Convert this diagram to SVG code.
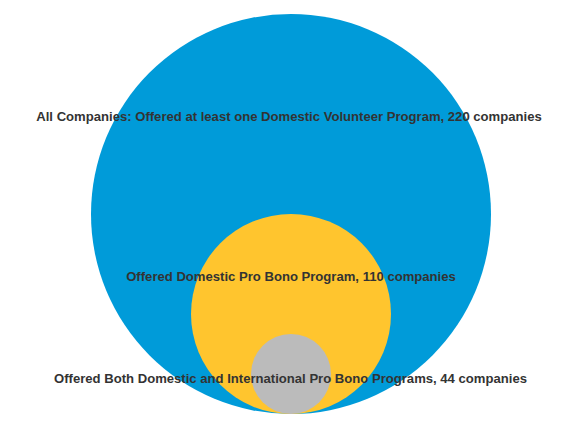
<svg xmlns="http://www.w3.org/2000/svg" width="578" height="427" viewBox="0 0 578 427">
<style>
text{font-family:"Liberation Sans",Arial,sans-serif;font-weight:bold;font-size:13.1px;fill:#333;text-anchor:middle}
</style>
<rect width="578" height="427" fill="#fff"/>
<g id="all"><circle cx="291" cy="214" r="200" fill="#009bd9"/></g>
<g id="probono"><circle cx="291" cy="314" r="100" fill="#ffc52e"/></g>
<g id="both"><circle cx="291" cy="374" r="40" fill="#bbbbbb"/></g>
<g id="labels">
<text x="289" y="121">All Companies: Offered at least one Domestic Volunteer Program, 220 companies</text>
<text x="291" y="281">Offered Domestic Pro Bono Program, 110 companies</text>
<text x="290.5" y="383">Offered Both Domestic and International Pro Bono Programs, 44 companies</text>
</g>
</svg>
